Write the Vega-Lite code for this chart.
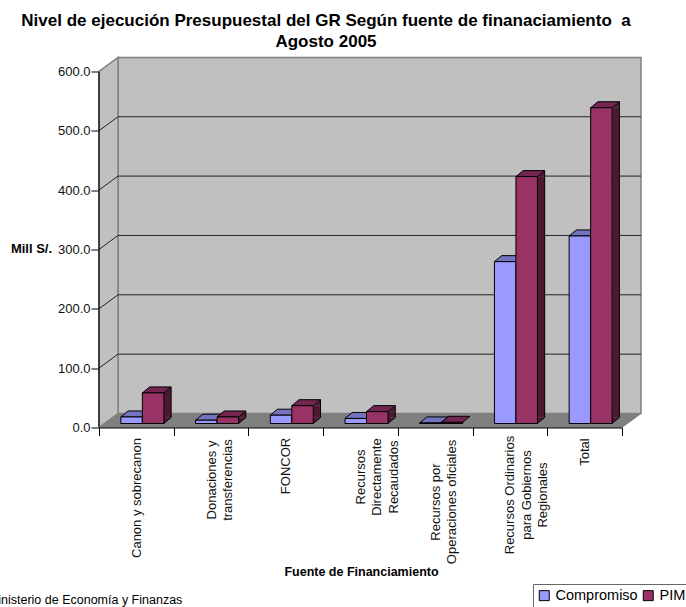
{"$schema":"https://vega.github.io/schema/vega-lite/v6.json","width":542,"height":370,"autosize":{"type":"none"},"padding":{"left":99,"top":57.5,"right":45,"bottom":179.5},"background":"white","title":{"text":["Nivel de ejecución Presupuestal del GR Según fuente de finanaciamiento\u00a0 a","Agosto 2005"],"font":"Liberation Sans","fontSize":17,"fontWeight":"bold","color":"#000000","anchor":"middle","dx":-44,"offset":4,"lineHeight":21},"config":{"view":{"stroke":null},"font":"Liberation Sans"},"datasets":{"bars":[{"fuente":"Canon y sobrecanon","serie":"Compromiso","monto":11},{"fuente":"Canon y sobrecanon","serie":"PIM","monto":51.5},{"fuente":"Donaciones y transferencias","serie":"Compromiso","monto":5.5},{"fuente":"Donaciones y transferencias","serie":"PIM","monto":11},{"fuente":"FONCOR","serie":"Compromiso","monto":14},{"fuente":"FONCOR","serie":"PIM","monto":30},{"fuente":"Recursos Directamente Recaudados","serie":"Compromiso","monto":8.5},{"fuente":"Recursos Directamente Recaudados","serie":"PIM","monto":20},{"fuente":"Recursos por Operaciones oficiales","serie":"Compromiso","monto":1},{"fuente":"Recursos por Operaciones oficiales","serie":"PIM","monto":2},{"fuente":"Recursos Ordinarios para Gobiernos Regionales","serie":"Compromiso","monto":272.7},{"fuente":"Recursos Ordinarios para Gobiernos Regionales","serie":"PIM","monto":416},{"fuente":"Total","serie":"Compromiso","monto":316},{"fuente":"Total","serie":"PIM","monto":532}],"grid":[{"nivel":100},{"nivel":200},{"nivel":300},{"nivel":400},{"nivel":500}],"piso":[{"pieza":"marco"}],"nota":[{"nota":"Fuente: Ministerio de Economía y Finanzas"}]},"data":{"name":"bars"},"resolve":{"scale":{"x":"independent"}},"layer":[
{"data":{"name":"piso"},"mark":{"type":"bar","fill":"#C0C0C0","stroke":"#808080","strokeWidth":1.5,"yOffset":-14,"y2Offset":-14,"x2Offset":37.35},"encoding":{"x":{"datum":"Canon y sobrecanon","bandPosition":0,"axis":null,"type":"nominal","scale":{"domain":["Canon y sobrecanon","Donaciones y transferencias","FONCOR","Recursos Directamente Recaudados","Recursos por Operaciones oficiales","Recursos Ordinarios para Gobiernos Regionales","Total"],"range":[19,542],"paddingInner":0,"paddingOuter":0}},"x2":{"datum":"Total"},"y":{"datum":600,"type":"quantitative","scale":{"domain":[0,623.4],"nice":false,"zero":false},"axis":{"values":[0,100,200,300,400,500,600],"format":".1f","domain":false,"grid":false,"tickSize":8,"tickColor":"#000000","labelFont":"Liberation Sans","labelFontSize":13,"labelColor":"#111111","labelPadding":1,"title":"Mill S/.","titleFont":"Liberation Sans","titleFontSize":13,"titleFontWeight":"bold","titleColor":"#000000","titleAngle":0,"titleX":-68,"titleY":191,"titleAlign":"center","titleBaseline":"middle"}},"y2":{"datum":0}}},
{"data":{"name":"piso"},"mark":{"type":"point","shape":"M0,0 L19,-14 L19,-370 L0,-356 Z","size":4,"filled":true,"opacity":1,"fill":"#C0C0C0","stroke":"#808080","strokeWidth":1.5},"encoding":{"x":{"datum":"Canon y sobrecanon","type":"nominal","axis":null,"scale":{"domain":["Canon y sobrecanon","Donaciones y transferencias","FONCOR","Recursos Directamente Recaudados","Recursos por Operaciones oficiales","Recursos Ordinarios para Gobiernos Regionales","Total"],"range":[-37.35,485.65],"paddingInner":0,"paddingOuter":0}},"y":{"datum":0,"type":"quantitative"}}},
{"data":{"name":"piso"},"mark":{"type":"point","shape":"M0,0 L523,0 L542,-14 L19,-14 Z","size":4,"filled":true,"opacity":1,"fill":"#808080","stroke":"#808080","strokeWidth":1},"encoding":{"x":{"datum":"Canon y sobrecanon","type":"nominal","axis":null,"scale":{"domain":["Canon y sobrecanon","Donaciones y transferencias","FONCOR","Recursos Directamente Recaudados","Recursos por Operaciones oficiales","Recursos Ordinarios para Gobiernos Regionales","Total"],"range":[-37.35,485.65],"paddingInner":0,"paddingOuter":0}},"y":{"datum":0,"type":"quantitative"}}},
{"data":{"name":"grid"},"mark":{"type":"point","shape":"M0,0 L19,-14 L542,-14","size":4,"filled":false,"opacity":1,"stroke":"#222222","strokeWidth":1},"encoding":{"x":{"datum":"Canon y sobrecanon","type":"nominal","axis":null,"scale":{"domain":["Canon y sobrecanon","Donaciones y transferencias","FONCOR","Recursos Directamente Recaudados","Recursos por Operaciones oficiales","Recursos Ordinarios para Gobiernos Regionales","Total"],"range":[-37.35,485.65],"paddingInner":0,"paddingOuter":0}},"y":{"field":"nivel","type":"quantitative"}}},
{"data":{"name":"piso"},"mark":{"type":"point","shape":"M-37.35,0 L-37.35,-356","size":4,"filled":false,"opacity":1,"stroke":"#000000","strokeWidth":1.2},"encoding":{"x":{"datum":"Canon y sobrecanon","type":"nominal","scale":{"domain":["Canon y sobrecanon","Donaciones y transferencias","FONCOR","Recursos Directamente Recaudados","Recursos por Operaciones oficiales","Recursos Ordinarios para Gobiernos Regionales","Total"],"range":[0,523],"paddingInner":0,"paddingOuter":0},"axis":{"orient":"bottom","zindex":1,"domain":true,"domainColor":"#000000","domainWidth":1.2,"tickColor":"#000000","tickSize":8,"tickBand":"extent","labelAngle":270,"labelAlign":"center","labelBaseline":"middle","labelPadding":2,"labelFont":"Liberation Sans","labelFontSize":13,"labelColor":"#111111","labelLineHeight":16.3,"labelOverlap":false,"labelBound":false,"labelFlush":false,"labelLimit":0,"labelExpr":"({'Donaciones y transferencias':['Donaciones y','transferencias'],'Recursos Directamente Recaudados':['Recursos','Directamente','Recaudados'],'Recursos por Operaciones oficiales':['Recursos por','Operaciones oficiales'],'Recursos Ordinarios para Gobiernos Regionales':['Recursos Ordinarios','para Gobiernos','Regionales']})[datum.label] || datum.label","encoding":{"labels":{"dx":{"value":{"expr":"({'Canon y sobrecanon':-60,'Donaciones y transferencias':-42,'FONCOR':-28,'Recursos Directamente Recaudados':-39,'Recursos por Operaciones oficiales':-64,'Recursos Ordinarios para Gobiernos Regionales':-57,'Total':-14})[datum.value]"}}}},"title":"Fuente de Financiamiento","titleFont":"Liberation Sans","titleFontSize":12.5,"titleFontWeight":"bold","titleColor":"#000000","titleX":262,"titleY":144,"titleAlign":"center","titleBaseline":"middle","titleAngle":0}},"y":{"datum":0,"type":"quantitative"}}},
{"transform":[{"filter":"datum.monto >= 10"}],"mark":{"type":"bar","width":7.25,"strokeWidth":0,"yOffset":-4,"y2Offset":-10},"encoding":{"x":{"field":"fuente","type":"nominal","sort":null,"axis":null,"scale":{"domain":["Canon y sobrecanon","Donaciones y transferencias","FONCOR","Recursos Directamente Recaudados","Recursos por Operaciones oficiales","Recursos Ordinarios para Gobiernos Regionales","Total"],"range":[20.4,543.4],"paddingInner":0,"paddingOuter":0}},"xOffset":{"field":"serie","type":"nominal","sort":null,"scale":{"domain":["Compromiso","PIM"],"paddingInner":0,"paddingOuter":0.737}},"y":{"field":"monto","type":"quantitative","stack":null},"y2":{"datum":0},"fill":{"condition":{"test":"datum.serie == 'PIM'","value":"#4C1933"},"value":"#4D4D80"}}},
{"transform":[{"filter":"datum.monto >= 10"}],"mark":{"type":"point","shape":"M10.75,0 L18,-6 L18,0 Z","size":4,"filled":true,"opacity":1,"strokeWidth":0,"yOffset":-4},"encoding":{"x":{"field":"fuente","type":"nominal","sort":null,"axis":null,"scale":{"domain":["Canon y sobrecanon","Donaciones y transferencias","FONCOR","Recursos Directamente Recaudados","Recursos por Operaciones oficiales","Recursos Ordinarios para Gobiernos Regionales","Total"],"range":[6,529],"paddingInner":0,"paddingOuter":0}},"xOffset":{"field":"serie","type":"nominal","sort":null},"y":{"field":"monto","type":"quantitative","stack":null},"fill":{"condition":{"test":"datum.serie == 'PIM'","value":"#4C1933"},"value":"#4D4D80"}}},
{"transform":[{"filter":"datum.monto >= 10"}],"mark":{"type":"point","shape":"M10.75,-6 L10.75,0 L18,-6","size":4,"filled":true,"opacity":1,"stroke":"#000000","strokeWidth":1,"yOffset":-4},"encoding":{"x":{"field":"fuente","type":"nominal","sort":null,"axis":null,"scale":{"domain":["Canon y sobrecanon","Donaciones y transferencias","FONCOR","Recursos Directamente Recaudados","Recursos por Operaciones oficiales","Recursos Ordinarios para Gobiernos Regionales","Total"],"range":[6,529],"paddingInner":0,"paddingOuter":0}},"xOffset":{"field":"serie","type":"nominal","sort":null},"y":{"datum":0,"type":"quantitative"},"fill":{"condition":{"test":"datum.serie == 'PIM'","value":"#4C1933"},"value":"#4D4D80"}}},
{"transform":[{"filter":"datum.monto >= 10"}],"mark":{"type":"rule","stroke":"#000000","strokeWidth":1,"yOffset":-10,"y2Offset":-10},"encoding":{"x":{"field":"fuente","type":"nominal","sort":null,"axis":null,"scale":{"domain":["Canon y sobrecanon","Donaciones y transferencias","FONCOR","Recursos Directamente Recaudados","Recursos por Operaciones oficiales","Recursos Ordinarios para Gobiernos Regionales","Total"],"range":[24,547],"paddingInner":0,"paddingOuter":0}},"xOffset":{"field":"serie","type":"nominal","sort":null},"y":{"field":"monto","type":"quantitative","stack":null},"y2":{"datum":0}}},
{"mark":{"type":"point","shape":"M-10.75,0 L10.75,0 L18,-6 L-3.5,-6 Z","size":4,"filled":true,"opacity":1,"stroke":"#000000","strokeWidth":1,"yOffset":-4},"encoding":{"x":{"field":"fuente","type":"nominal","sort":null,"axis":null,"scale":{"domain":["Canon y sobrecanon","Donaciones y transferencias","FONCOR","Recursos Directamente Recaudados","Recursos por Operaciones oficiales","Recursos Ordinarios para Gobiernos Regionales","Total"],"range":[6,529],"paddingInner":0,"paddingOuter":0}},"xOffset":{"field":"serie","type":"nominal","sort":null},"y":{"field":"monto","type":"quantitative","stack":null},"fill":{"condition":{"test":"datum.serie == 'PIM'","value":"#732650"},"value":"#7373BF"}}},
{"mark":{"type":"bar","stroke":"#000000","strokeWidth":1,"yOffset":-4,"y2Offset":-4},"encoding":{"x":{"field":"fuente","type":"nominal","sort":null,"axis":null,"scale":{"domain":["Canon y sobrecanon","Donaciones y transferencias","FONCOR","Recursos Directamente Recaudados","Recursos por Operaciones oficiales","Recursos Ordinarios para Gobiernos Regionales","Total"],"range":[6,529],"paddingInner":0,"paddingOuter":0}},"xOffset":{"field":"serie","type":"nominal","sort":null},"y":{"field":"monto","type":"quantitative","stack":null},"y2":{"datum":0},"color":{"field":"serie","type":"nominal","sort":null,"scale":{"domain":["Compromiso","PIM"],"range":["#9999FF","#993366"]},"legend":{"orient":"none","legendX":434,"legendY":526.5,"title":null,"columns":2,"direction":"horizontal","symbolType":"square","symbolSize":100,"symbolStrokeColor":"#000000","symbolStrokeWidth":1,"symbolOpacity":1,"labelFont":"Liberation Sans","labelFontSize":14.5,"labelColor":"#000000","labelOffset":4,"columnPadding":3,"padding":4,"fillColor":"#FFFFFF","strokeColor":"#666666","labelLimit":0}}}},
{"data":{"name":"nota"},"mark":{"type":"text","align":"right","baseline":"middle","xOffset":46,"font":"Liberation Sans","fontSize":12.5,"color":"#000000"},"encoding":{"x":{"datum":"Canon y sobrecanon","type":"nominal","axis":null,"scale":{"domain":["Canon y sobrecanon","Donaciones y transferencias","FONCOR","Recursos Directamente Recaudados","Recursos por Operaciones oficiales","Recursos Ordinarios para Gobiernos Regionales","Total"],"range":[0,523],"paddingInner":0,"paddingOuter":0}},"y":{"datum":-290,"type":"quantitative"},"text":{"field":"nota"}}}
]}
